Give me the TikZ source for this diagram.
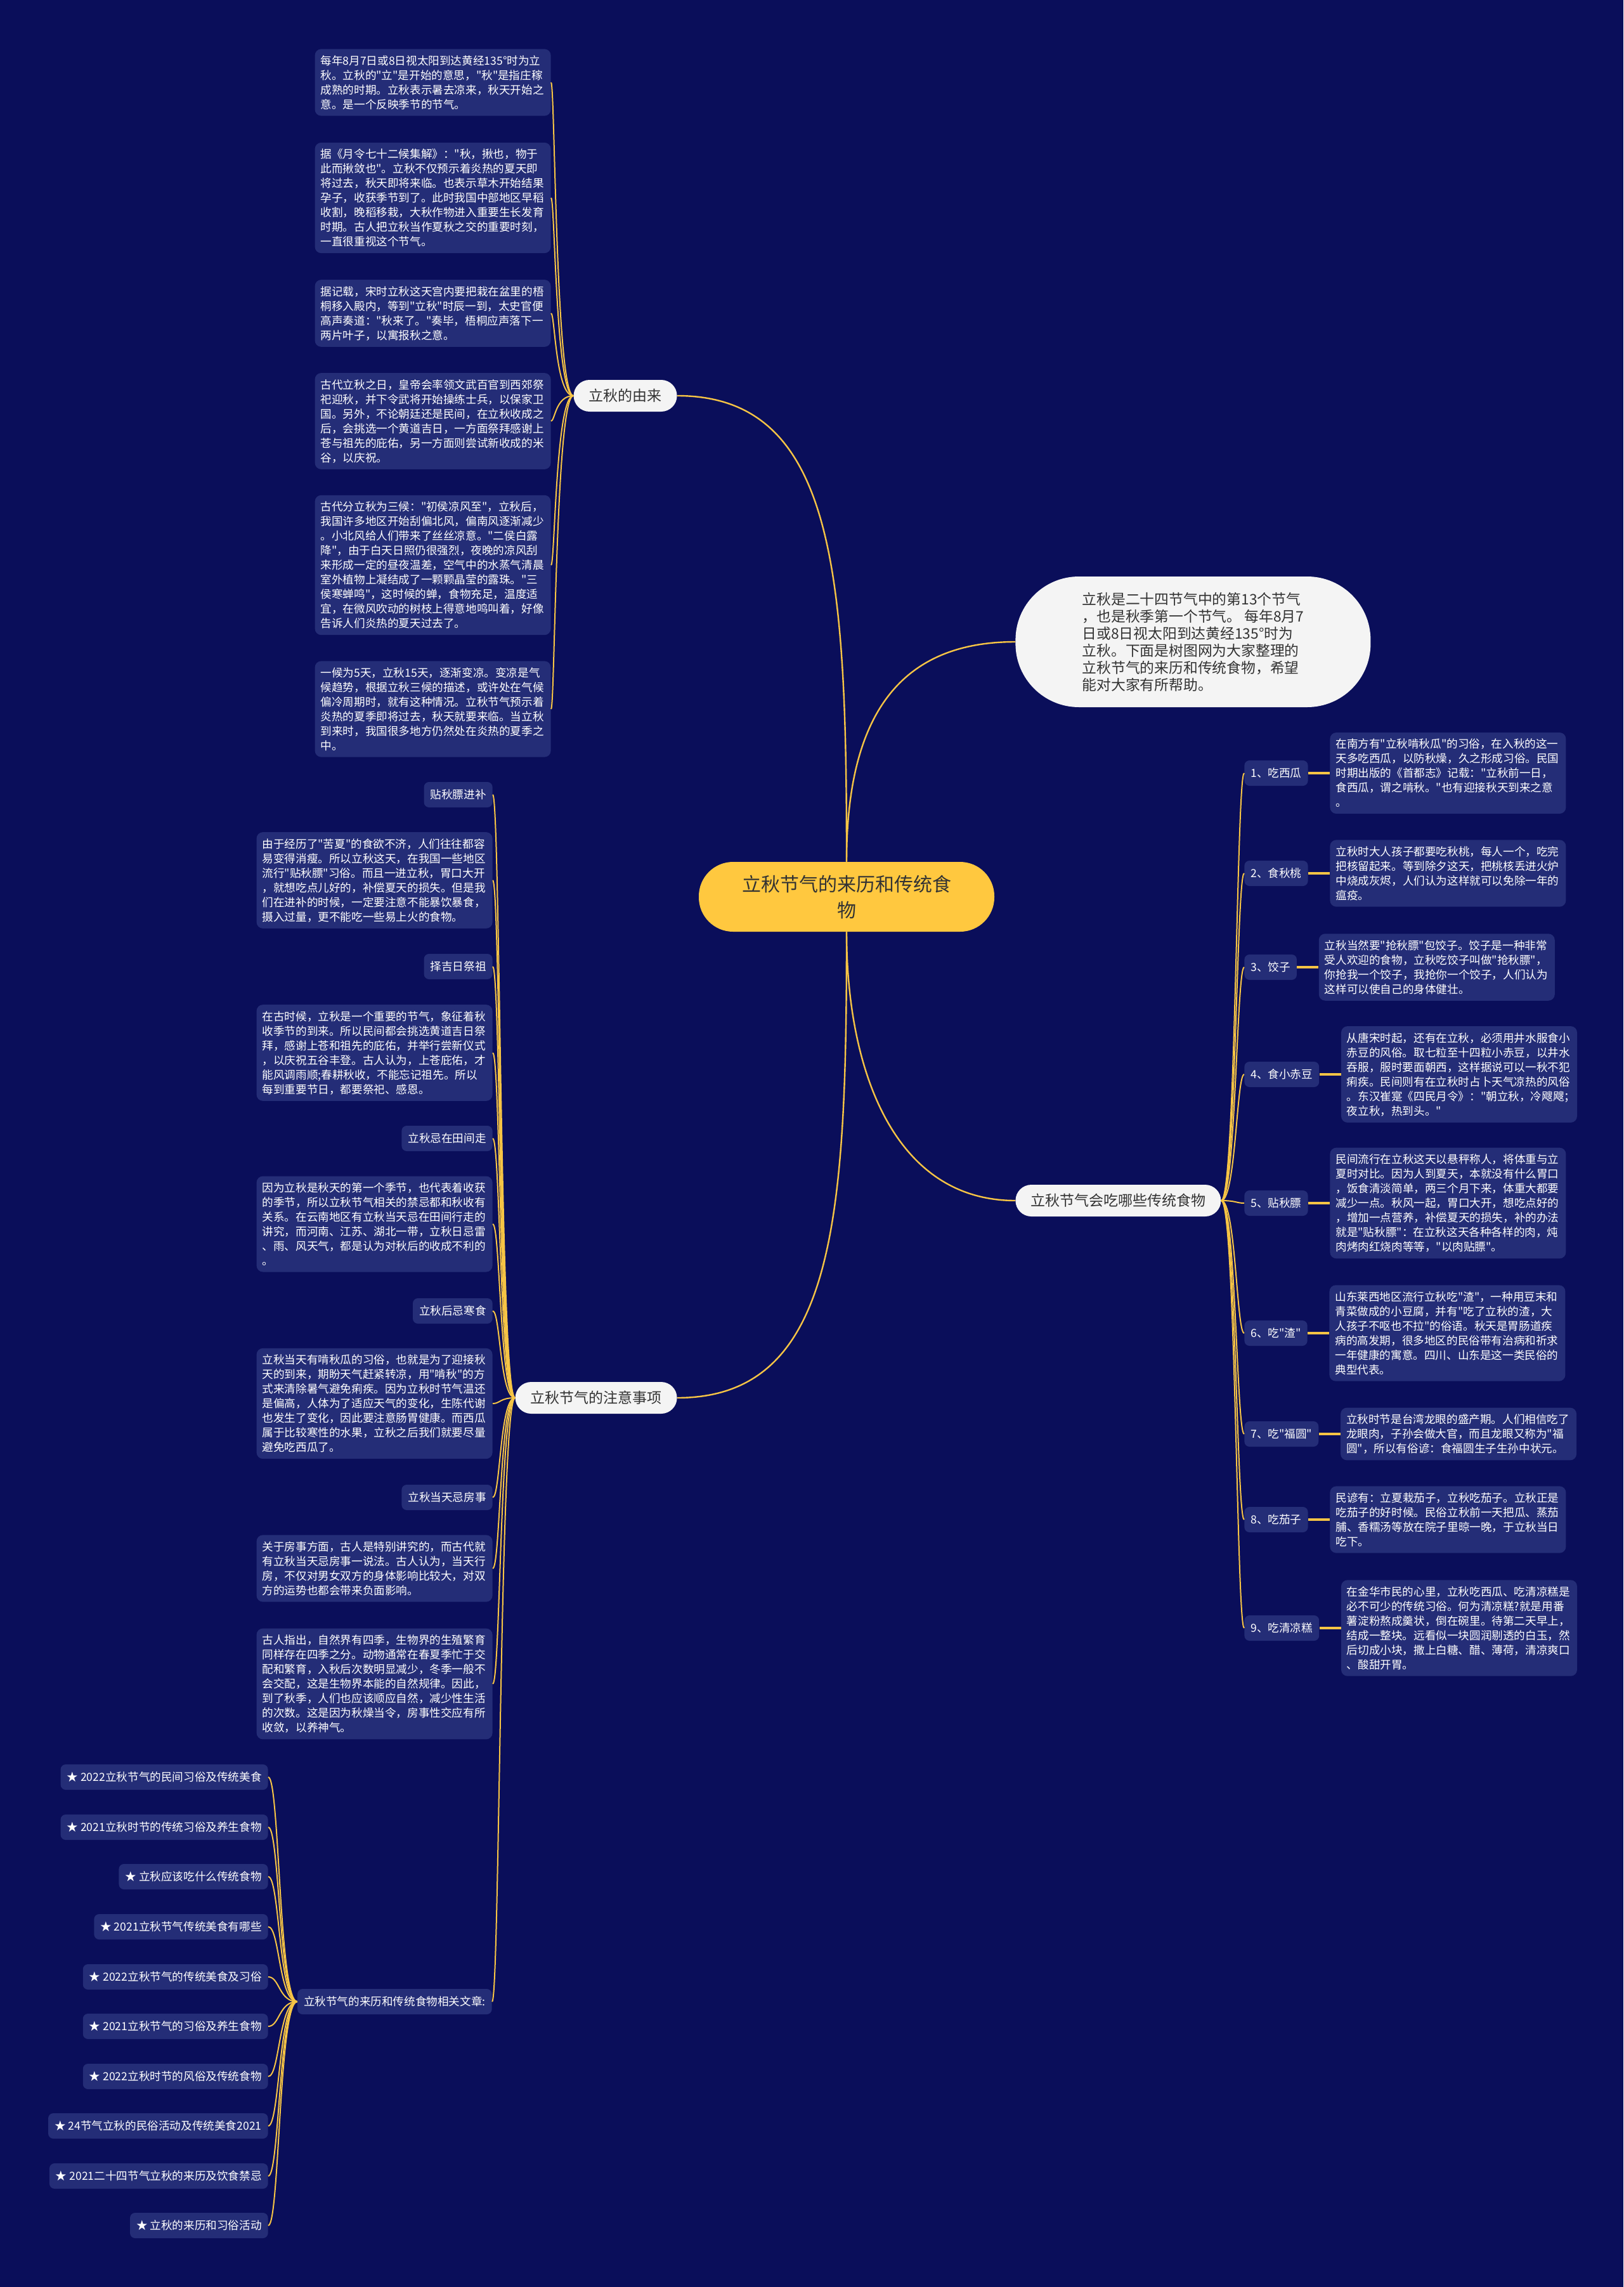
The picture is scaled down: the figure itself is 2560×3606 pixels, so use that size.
\documentclass[tikz,border=0pt]{standalone}
\usepackage{fontspec}
\setmainfont{Noto Sans CJK SC}[Ligatures=TeXOff]
\usetikzlibrary{positioning}
\definecolor{night}{HTML}{0A0E5A}
\definecolor{card}{HTML}{242D77}
\definecolor{gold}{HTML}{F6C445}
\definecolor{rootfill}{HTML}{FFC83F}
\definecolor{paper}{HTML}{F4F4F4}
\definecolor{ink}{HTML}{333333}

\begin{document}
\begin{tikzpicture}[x=0.5pt, y=-0.5pt,
  root/.style={rectangle, rounded corners=27pt, fill=rootfill, text=ink,
               minimum width=233pt, minimum height=55pt, align=center,
               font=\fontsize{15}{20.5}\selectfont},
  topic/.style={rectangle, rounded corners=12.5pt, fill=paper, text=ink,
                minimum height=25pt, inner xsep=12pt,
                font=\fontsize{11.5}{13.5}\selectfont},
  bubble/.style={rectangle, rounded corners=50pt, fill=paper, text=ink,
                 minimum width=280pt, minimum height=103pt, align=left,
                 font=\fontsize{11.4}{13.5}\selectfont},
  tag/.style={rectangle, rounded corners=4pt, fill=card, text=white,
              minimum height=20pt, inner xsep=5pt,
              font=\fontsize{8.8}{11.5}\selectfont},
  note/.style={rectangle, rounded corners=5pt, fill=card, text=white,
               text width=177pt, inner xsep=4.5pt, inner ysep=5pt, align=left,
               font=\fontsize{8.8}{11.5}\selectfont},
  link/.style={draw=gold, line width=1pt},
  trunk/.style={draw=gold, line width=1.2pt},
  stub/.style={draw=gold, line width=1.6pt},
]
  \fill[night] (0,0) rectangle (2560,3606);
  \useasboundingbox (0,0) rectangle (2560,3606);

  % centre and main topics
  \node[root] (root) at (1335,1414) {立秋节气的来历和传统食\\物};
  \node[topic, anchor=east] (org) at (1068,624) {立秋的由来};
  \node[bubble, anchor=west] (intro) at (1601,1012) {立秋是二十四节气中的第13个节气\\，也是秋季第一个节气。~每年8月7\\日或8日视太阳到达黄经135°时为\\立秋。下面是树图网为大家整理的\\立秋节气的来历和传统食物，希望\\能对大家有所帮助。};
  \node[topic, anchor=west] (food) at (1601,1893) {立秋节气会吃哪些传统食物};
  \node[topic, anchor=east] (care) at (1068,2204) {立秋节气的注意事项};

  % origin
  \node[note, anchor=east] (o1) at (869,130) {每年8月7日或8日视太阳到达黄经135°时为立\\秋。立秋的"立"是开始的意思，"秋"是指庄稼\\成熟的时期。立秋表示暑去凉来，秋天开始之\\意。是一个反映季节的节气。};
  \node[note, anchor=east] (o2) at (869,312) {据《月令七十二候集解》："秋，揪也，物于\\此而揪敛也"。立秋不仅预示着炎热的夏天即\\将过去，秋天即将来临。也表示草木开始结果\\孕子，收获季节到了。此时我国中部地区早稻\\收割，晚稻移栽，大秋作物进入重要生长发育\\时期。古人把立秋当作夏秋之交的重要时刻，\\一直很重视这个节气。};
  \node[note, anchor=east] (o3) at (869,494) {据记载，宋时立秋这天宫内要把栽在盆里的梧\\桐移入殿内，等到"立秋"时辰一到，太史官便\\高声奏道："秋来了。"奏毕，梧桐应声落下一\\两片叶子，以寓报秋之意。};
  \node[note, anchor=east] (o4) at (869,664) {古代立秋之日，皇帝会率领文武百官到西郊祭\\祀迎秋，并下令武将开始操练士兵，以保家卫\\国。另外，不论朝廷还是民间，在立秋收成之\\后，会挑选一个黄道吉日，一方面祭拜感谢上\\苍与祖先的庇佑，另一方面则尝试新收成的米\\谷，以庆祝。};
  \node[note, anchor=east] (o5) at (869,891) {古代分立秋为三候："初侯凉风至"，立秋后，\\我国许多地区开始刮偏北风，偏南风逐渐减少\\。小北风给人们带来了丝丝凉意。"二侯白露\\降"，由于白天日照仍很强烈，夜晚的凉风刮\\来形成一定的昼夜温差，空气中的水蒸气清晨\\室外植物上凝结成了一颗颗晶莹的露珠。"三\\侯寒蝉鸣"，这时候的蝉，食物充足，温度适\\宜，在微风吹动的树枝上得意地鸣叫着，好像\\告诉人们炎热的夏天过去了。};
  \node[note, anchor=east] (o6) at (869,1118) {一候为5天，立秋15天，逐渐变凉。变凉是气\\候趋势，根据立秋三候的描述，或许处在气候\\偏冷周期时，就有这种情况。立秋节气预示着\\炎热的夏季即将过去，秋天就要来临。当立秋\\到来时，我国很多地方仍然处在炎热的夏季之\\中。};

  % food
  \node[tag, anchor=west] (f1) at (1962,1219) {1、吃西瓜};
  \node[note, right=17pt of f1] (n1) {在南方有"立秋啃秋瓜"的习俗，在入秋的这一\\天多吃西瓜，以防秋燥，久之形成习俗。民国\\时期出版的《首都志》记载："立秋前一日，\\食西瓜，谓之啃秋。"也有迎接秋天到来之意\\。};
  \node[tag, anchor=west] (f2) at (1962,1377) {2、食秋桃};
  \node[note, right=17pt of f2] (n2) {立秋时大人孩子都要吃秋桃，每人一个，吃完\\把核留起来。等到除夕这天，把桃核丢进火炉\\中烧成灰烬，人们认为这样就可以免除一年的\\瘟疫。};
  \node[tag, anchor=west] (f3) at (1962,1525) {3、饺子};
  \node[note, right=17pt of f3] (n3) {立秋当然要"抢秋膘"包饺子。饺子是一种非常\\受人欢迎的食物，立秋吃饺子叫做"抢秋膘"，\\你抢我一个饺子，我抢你一个饺子，人们认为\\这样可以使自己的身体健壮。};
  \node[tag, anchor=west] (f4) at (1962,1694) {4、食小赤豆};
  \node[note, right=17pt of f4] (n4) {从唐宋时起，还有在立秋，必须用井水服食小\\赤豆的风俗。取七粒至十四粒小赤豆，以井水\\吞服，服时要面朝西，这样据说可以一秋不犯\\痢疾。民间则有在立秋时占卜天气凉热的风俗\\。东汉崔寔《四民月令》："朝立秋，冷飕飕；\\夜立秋，热到头。"};
  \node[tag, anchor=west] (f5) at (1962,1897) {5、贴秋膘};
  \node[note, right=17pt of f5] (n5) {民间流行在立秋这天以悬秤称人，将体重与立\\夏时对比。因为人到夏天，本就没有什么胃口\\，饭食清淡简单，两三个月下来，体重大都要\\减少一点。秋风一起，胃口大开，想吃点好的\\，增加一点营养，补偿夏天的损失，补的办法\\就是"贴秋膘"：在立秋这天各种各样的肉，炖\\肉烤肉红烧肉等等，"以肉贴膘"。};
  \node[tag, anchor=west] (f6) at (1962,2102) {6、吃"渣"};
  \node[note, right=17pt of f6] (n6) {山东莱西地区流行立秋吃"渣"，一种用豆末和\\青菜做成的小豆腐，并有"吃了立秋的渣，大\\人孩子不呕也不拉"的俗语。秋天是胃肠道疾\\病的高发期，很多地区的民俗带有治病和祈求\\一年健康的寓意。四川、山东是这一类民俗的\\典型代表。};
  \node[tag, anchor=west] (f7) at (1962,2261) {7、吃"福圆"};
  \node[note, right=17pt of f7] (n7) {立秋时节是台湾龙眼的盛产期。人们相信吃了\\龙眼肉，子孙会做大官，而且龙眼又称为"福\\圆"，所以有俗谚：食福圆生子生孙中状元。};
  \node[tag, anchor=west] (f8) at (1962,2396) {8、吃茄子};
  \node[note, right=17pt of f8] (n8) {民谚有：立夏栽茄子，立秋吃茄子。立秋正是\\吃茄子的好时候。民俗立秋前一天把瓜、蒸茄\\脯、香糯汤等放在院子里晾一晚，于立秋当日\\吃下。};
  \node[tag, anchor=west] (f9) at (1962,2567) {9、吃清凉糕};
  \node[note, right=17pt of f9] (n9) {在金华市民的心里，立秋吃西瓜、吃清凉糕是\\必不可少的传统习俗。何为清凉糕?就是用番\\薯淀粉熬成羹状，倒在碗里。待第二天早上，\\结成一整块。远看似一块圆润剔透的白玉，然\\后切成小块，撒上白糖、醋、薄荷，清凉爽口\\、酸甜开胃。};

  % taboos
  \node[tag, anchor=east] (c1) at (777,1253) {贴秋膘进补};
  \node[note, anchor=east] (k1) at (777,1388) {由于经历了"苦夏"的食欲不济，人们往往都容\\易变得消瘦。所以立秋这天，在我国一些地区\\流行"贴秋膘"习俗。而且一进立秋，胃口大开\\，就想吃点儿好的，补偿夏天的损失。但是我\\们在进补的时候，一定要注意不能暴饮暴食，\\摄入过量，更不能吃一些易上火的食物。};
  \node[tag, anchor=east] (c2) at (777,1524) {择吉日祭祖};
  \node[note, anchor=east] (k2) at (777,1660) {在古时候，立秋是一个重要的节气，象征着秋\\收季节的到来。所以民间都会挑选黄道吉日祭\\拜，感谢上苍和祖先的庇佑，并举行尝新仪式\\，以庆祝五谷丰登。古人认为，上苍庇佑，才\\能风调雨顺;春耕秋收，不能忘记祖先。所以\\每到重要节日，都要祭祀、感恩。};
  \node[tag, anchor=east] (c3) at (777,1795) {立秋忌在田间走};
  \node[note, anchor=east] (k3) at (777,1930) {因为立秋是秋天的第一个季节，也代表着收获\\的季节，所以立秋节气相关的禁忌都和秋收有\\关系。在云南地区有立秋当天忌在田间行走的\\讲究，而河南、江苏、湖北一带，立秋日忌雷\\、雨、风天气，都是认为对秋后的收成不利的\\。};
  \node[tag, anchor=east] (c4) at (777,2067) {立秋后忌寒食};
  \node[note, anchor=east] (k4) at (777,2213) {立秋当天有啃秋瓜的习俗，也就是为了迎接秋\\天的到来，期盼天气赶紧转凉，用"啃秋"的方\\式来清除暑气避免痢疾。因为立秋时节气温还\\是偏高，人体为了适应天气的变化，生陈代谢\\也发生了变化，因此要注意肠胃健康。而西瓜\\属于比较寒性的水果，立秋之后我们就要尽量\\避免吃西瓜了。};
  \node[tag, anchor=east] (c5) at (777,2361) {立秋当天忌房事};
  \node[note, anchor=east] (k5) at (777,2473) {关于房事方面，古人是特别讲究的，而古代就\\有立秋当天忌房事一说法。古人认为，当天行\\房，不仅对男女双方的身体影响比较大，对双\\方的运势也都会带来负面影响。};
  \node[note, anchor=east] (k6) at (777,2655) {古人指出，自然界有四季，生物界的生殖繁育\\同样存在四季之分。动物通常在春夏季忙于交\\配和繁育，入秋后次数明显减少，冬季一般不\\会交配，这是生物界本能的自然规律。因此，\\到了秋季，人们也应该顺应自然，减少性生活\\的次数。这是因为秋燥当令，房事性交应有所\\收敛，以养神气。};

  % related articles
  \node[tag, anchor=east] (rel) at (776,3156) {立秋节气的来历和传统食物相关文章:};
  \node[tag, anchor=east] (r1) at (423,2802) {★ 2022立秋节气的民间习俗及传统美食};
  \node[tag, anchor=east] (r2) at (423,2881) {★ 2021立秋时节的传统习俗及养生食物};
  \node[tag, anchor=east] (r3) at (423,2959) {★ 立秋应该吃什么传统食物};
  \node[tag, anchor=east] (r4) at (423,3038) {★ 2021立秋节气传统美食有哪些};
  \node[tag, anchor=east] (r5) at (423,3117) {★ 2022立秋节气的传统美食及习俗};
  \node[tag, anchor=east] (r6) at (423,3195) {★ 2021立秋节气的习俗及养生食物};
  \node[tag, anchor=east] (r7) at (423,3274) {★ 2022立秋时节的风俗及传统食物};
  \node[tag, anchor=east] (r8) at (423,3352) {★ 24节气立秋的民俗活动及传统美食2021};
  \node[tag, anchor=east] (r9) at (423,3431) {★ 2021二十四节气立秋的来历及饮食禁忌};
  \node[tag, anchor=east] (r10) at (423,3509) {★ 立秋的来历和习俗活动};

  % connectors
  \draw[trunk] (root.north) .. controls +(0,-450) and +(250,0) .. (org.east);
  \draw[trunk] (root.north) .. controls +(0,-220) and +(-190,0) .. (intro.west);
  \draw[trunk] (root.south) .. controls +(0,220) and +(-190,0) .. (food.west);
  \draw[trunk] (root.south) .. controls +(0,450) and +(250,0) .. (care.east);
  \foreach \nd in {o1,o2,o3,o4,o5,o6}
    \draw[link] (org.west) .. controls +(-28,0) and +(6,0) .. (\nd.east);
  \foreach \i in {1,...,9} {
    \draw[link] (food.east) .. controls +(23,0) and +(-12,0) .. (f\i.west);
    \draw[stub] (f\i) -- (n\i);
  }
  \foreach \nd in {c1,k1,c2,k2,c3,k3,c4,k4,c5,k5,k6,rel}
    \draw[link] (care.west) .. controls +(-24,0) and +(12,0) .. (\nd.east);
  \foreach \i in {1,...,10}
    \draw[link] (rel.west) .. controls +(-29,0) and +(18,0) .. (r\i.east);
\end{tikzpicture}
\end{document}
